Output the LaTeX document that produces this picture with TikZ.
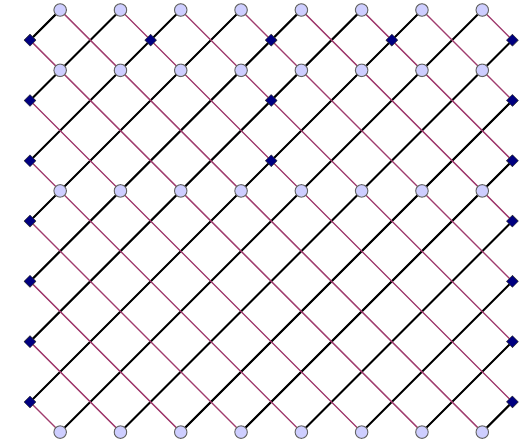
\documentclass[tikz,border=0pt]{standalone}
\usetikzlibrary{shapes.geometric}
\definecolor{linkpink}{RGB}{160,60,110}
\definecolor{circfill}{RGB}{206,206,255}
\definecolor{navyfill}{RGB}{0,0,128}
\tikzset{
  blackline/.style={line width=2pt, black},
  pinkline/.style={line width=1.3pt, linkpink},
  circnode/.style={circle, draw=black!60, fill=circfill, line width=1pt, minimum size=12.5pt, inner sep=0pt},
  diamnode/.style={diamond, aspect=1, draw=black!80, fill=navyfill, line width=0.4pt, minimum size=12pt, inner sep=0pt},
}
\begin{document}
\begin{tikzpicture}[x=30.15pt, y=-30.15pt]
\path[use as bounding box] (-30pt,10pt) rectangle (494pt,-434pt);
% boundary coordinates
\foreach \a in {1,3,...,15} {
  \coordinate (p-\a-0) at (\a,0);
  \coordinate (p-\a-14) at (\a,14);
}
\foreach \b in {1,3,...,13} {
  \coordinate (p-0-\b) at (0,\b);
  \coordinate (p-16-\b) at (16,\b);
}
% black lines (rising to the right)
\foreach \s in {1,3,...,29} {
  \pgfmathtruncatemacro\ua{min(\s,16)}
  \pgfmathtruncatemacro\ub{\s-\ua}
  \pgfmathtruncatemacro\la{max(\s-14,0)}
  \pgfmathtruncatemacro\lb{\s-\la}
  \draw[blackline] (p-\ua-\ub) -- (p-\la-\lb);
}
% pink lines (falling to the right)
\foreach \d in {-13,-11,...,15} {
  \pgfmathtruncatemacro\ua{max(\d,0)}
  \pgfmathtruncatemacro\ub{\ua-\d}
  \pgfmathtruncatemacro\la{min(\d+14,16)}
  \pgfmathtruncatemacro\lb{\la-\d}
  \draw[pinkline] (p-\ua-\ub) -- (p-\la-\lb);
}
% circle nodes
\foreach \a in {1,3,...,15} {
  \foreach \b in {0,2,6,14} {
    \node[circnode] (c-\a-\b) at (\a,\b) {};
  }
}
% diamond nodes
\foreach \b in {1,3,...,13} {
  \node[diamnode] (d-0-\b) at (0,\b) {};
  \node[diamnode] (d-16-\b) at (16,\b) {};
}
\foreach \a/\b in {4/1,8/1,12/1,8/3,8/5} {
  \node[diamnode] (d-\a-\b) at (\a,\b) {};
}
\end{tikzpicture}
\end{document}
